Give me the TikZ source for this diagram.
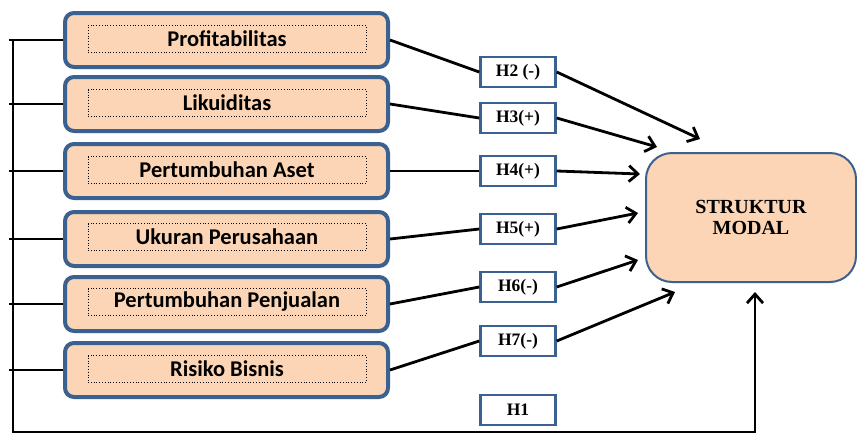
\documentclass[tikz,border=0pt]{standalone}
\usepackage{fontspec}
\setmainfont{Liberation Serif}
\newfontfamily\boxfont{Carlito}
\usepackage{tikz}
\usetikzlibrary{arrows.meta}
\definecolor{peach}{HTML}{FBD5B5}
\definecolor{edgeblue}{HTML}{3B6190}

\begin{document}
\begin{tikzpicture}[x=1pt,y=-1pt,
  var/.style={draw=edgeblue,line width=4pt,fill=peach,rounded corners=9pt,minimum width=323pt,minimum height=54pt},
  lbl/.style={draw,dotted,line width=0.8pt,minimum width=278pt,minimum height=27pt,inner sep=0pt,font=\boxfont\bfseries\fontsize{22.5}{22.5}\selectfont},
  hyp/.style={draw=edgeblue,line width=2.5pt,fill=white,minimum width=75pt,minimum height=30pt,inner sep=0pt,font=\bfseries\fontsize{17.5}{17.5}\selectfont},
  link/.style={line width=2.8pt},
  arr/.style={line width=2.8pt,-{Straight Barb[length=9pt,width=16pt]}},
]
\useasboundingbox (0,0) rectangle (857,437);
% variable boxes
\node[var] (p1) at (226.5,40) {};
\node[var] (p2) at (226.5,104) {};
\node[var] (p3) at (226.5,171) {};
\node[var] (p4) at (226.5,239) {};
\node[var] (p5) at (226.5,304) {};
\node[var] (p6) at (226.5,370) {};
\node[lbl] (l1) at (227,38.5) {Profitabilitas};
\node[lbl] (l2) at (227,103) {Likuiditas};
\node[lbl] (l3) at (227,170) {Pertumbuhan Aset};
\node[lbl] (l4) at (227,237) {Ukuran Perusahaan};
\node[lbl] (l5) at (227,302) {Pertumbuhan Penjualan};
\node[lbl] (l6) at (227,369) {Risiko  Bisnis};
% dependent variable
\node[draw=edgeblue,line width=2pt,fill=peach,rounded corners=26pt,minimum width=210pt,minimum height=129pt,
  align=center,font=\bfseries\fontsize{20}{21}\selectfont] (sm) at (751,217.5) {STRUKTUR\\MODAL};
% hypothesis boxes
\node[hyp] (h2) at (518,72) {H2 (-)};
\node[hyp] (h3) at (518,118) {H3(+)};
\node[hyp] (h4) at (518,171) {H4(+)};
\node[hyp] (h5) at (518,229) {H5(+)};
\node[hyp] (h6) at (518,287) {H6(-)};
\node[hyp] (h7) at (518,341) {H7(-)};
\node[hyp] (h1) at (518,410) {H1};
% arrow ends
\coordinate (e2) at (700,139);
\coordinate (e3) at (657,147);
\coordinate (e4) at (640,174);
\coordinate (e5) at (638,213);
\coordinate (e6) at (638,260);
\coordinate (e7) at (675,292);
\draw[link] (p1.east) -- (h2.west);
\draw[link] (p2.east) -- (h3.west);
\draw[link] (p3.east) -- (h4.west);
\draw[link] (p4.east) -- (h5.west);
\draw[link] (p5.east) -- (h6.west);
\draw[link] (p6.east) -- (h7.west);
\draw[arr] (h2.east) -- (e2);
\draw[arr] (h3.east) -- (e3);
\draw[arr] (h4.east) -- (e4);
\draw[arr] (h5.east) -- (e5);
\draw[arr] (h6.east) -- (e6);
\draw[arr] (h7.east) -- (e7);
% trunk for H1
\coordinate (top) at (13,40);
\coordinate (bot) at (13,432);
\coordinate (corner) at (755,432);
\foreach \n in {1,...,6}{ \draw[link] (p\n.west) -- (p\n.west -| 9,0); }
\draw[arr] (top) -- (bot) -- (corner) -- ([yshift=-9pt]sm.south -| corner);
\end{tikzpicture}
\end{document}
